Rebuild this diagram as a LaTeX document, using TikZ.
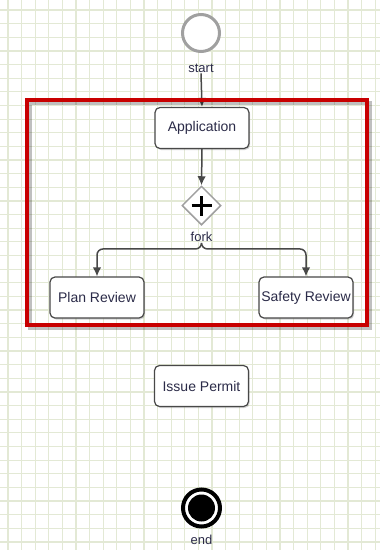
\documentclass[tikz,border=0pt]{standalone}
\usepackage{fontspec}
\setmainfont{Liberation Sans}
\usepackage{tikz}
\usetikzlibrary{arrows.meta,shapes.geometric,shadows}
\definecolor{gridgreen}{HTML}{E3E9D5}
\definecolor{flowink}{HTML}{2B2B48}
\definecolor{boxedge}{HTML}{484848}
\definecolor{laneRed}{HTML}{C80000}
\definecolor{startgray}{HTML}{A0A0A0}

\begin{document}
\begin{tikzpicture}[
  x=1pt, y=-1pt,
  font=\fontsize{14}{16}\selectfont\color{flowink},
  gridline/.style={draw=gridgreen, line width=1.2pt},
  task/.style={draw=boxedge, fill=white, line width=1.2pt, rounded corners=5pt,
               minimum width=94pt, minimum height=41pt, inner sep=0pt,
               drop shadow={shadow xshift=1.2pt, shadow yshift=-1.5pt, opacity=0.35}},
  evstart/.style={circle, draw=startgray, fill=white, line width=3pt, minimum size=37pt},
  evend/.style={circle, draw=black, fill=white, line width=4pt, minimum size=37pt,
                path picture={\fill[black] (path picture bounding box.center) circle (13.5pt);}},
  gate/.style={diamond, draw=startgray, fill=white, line width=1.5pt, minimum size=39pt, inner sep=0pt,
               path picture={
                 \draw[black, line width=3pt] ([xshift=-10pt]path picture bounding box.center) -- ([xshift=10pt]path picture bounding box.center);
                 \draw[black, line width=3pt] ([yshift=-10pt]path picture bounding box.center) -- ([yshift=10pt]path picture bounding box.center);}},
  lbl/.style={font=\fontsize{13}{15}\selectfont\color{flowink}, inner sep=1pt},
  flow/.style={draw=boxedge, line width=1.5pt, -{Latex[length=9pt,width=8.5pt]}},
]
\useasboundingbox (0,0) rectangle (380,550);
\fill[white] (0,0) rectangle (380,550);
% background grid
\foreach \i in {0,...,27} \draw[gridline] ({8+13.6*\i},0) -- ({8+13.6*\i},550);
\foreach \j in {0,...,39} \draw[gridline] (0,{10+13.64*\j}) -- (380,{10+13.64*\j});

\node[evstart] (start) at (201,33) {};
\node[lbl] (startlbl) at (201,68) {start};
\node[task] (application) at (202,128) {Application};
\node[gate] (fork) at (201.5,205.5) {};
\node[lbl] (forklbl) at (201.5,237) {fork};
\node[task] (planrev) at (97,297.5) {Plan Review};
\node[task] (safetyrev) at (306,297.5) {Safety Review};
\node[task] (permit) at (201.5,386) {Issue Permit};
\node[evend] (end) at (201.5,508) {};
\node[lbl] (endlbl) at (201.5,540) {end};

\draw[flow] (startlbl.south) -- (application.north);
\draw[flow] (application.south) -- (fork.north);
\draw[flow, rounded corners=6pt] (forklbl.south) -- ++(0,6) -| (planrev.north);
\draw[flow, rounded corners=6pt] (forklbl.south) -- ++(0,6) -| (safetyrev.north);

% highlighted stage
\draw[black, opacity=0.25, line width=4pt] (29.5,103) rectangle (369.5,328);
\draw[laneRed, line width=4pt] (27,100) rectangle (367,325);
\end{tikzpicture}
\end{document}
